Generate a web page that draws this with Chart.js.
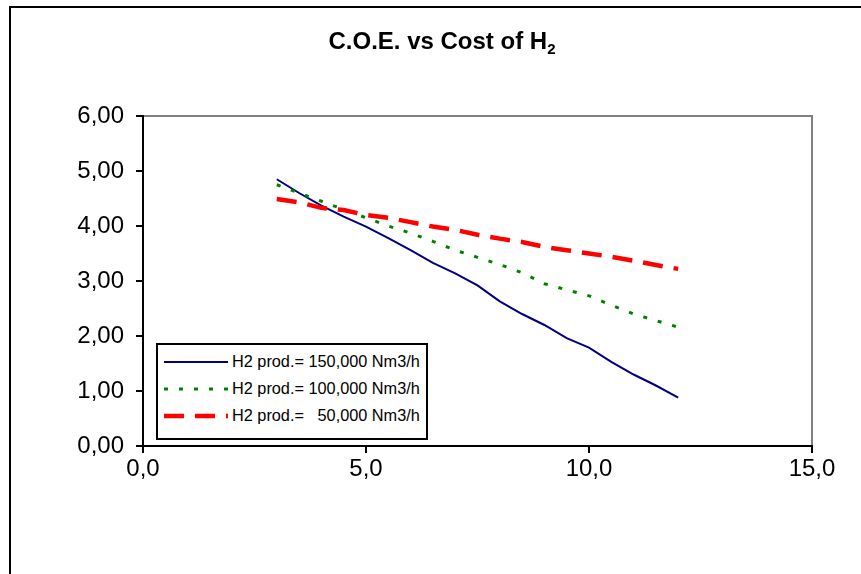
<!DOCTYPE html>
<html>
<head>
<meta charset="utf-8">
<script src="https://cdn.jsdelivr.net/npm/chart.js@4/dist/chart.umd.min.js"></script>
<style>
  body { margin: 0; background: #fff; font-family: "Liberation Sans", Arial, sans-serif; }
  #wrap { position: relative; width: 861px; height: 574px; overflow: hidden; }
  #title { position: absolute; left: 0; width: 884px; top: 27px; text-align: center; line-height: 28px;
           font-weight: bold; font-size: 24px; color: #000; }
  #title sub { font-size: 15px; line-height: 0; vertical-align: -5px; }
  #legend { position: absolute; left: 156px; top: 343px; width: 268px; height: 90px;
            border: 2px solid #000; background: #fff; font-size: 16.3px; padding-top: 3px; box-sizing: content-box; }
  #legend .row { display: flex; align-items: center; height: 27px; margin-left: 5px; white-space: pre; }
  #legend svg { margin-right: 3px; }
</style>
</head>
<body>
<div id="wrap">
  <canvas id="coe" width="861" height="574"></canvas>
  <div id="title">C.O.E. vs Cost of H<sub>2</sub></div>
  <div id="legend"></div>
</div>
<script>
//---------------------- Data -----------------------//
const costH2 = [3.0, 3.5, 4.0, 4.5, 5.0, 5.5, 6.0, 6.5, 7.0, 7.5, 8.0, 8.5, 9.0, 9.5, 10.0, 10.5, 11.0, 11.5, 12.0];
const coe150 = [4.85, 4.60, 4.37, 4.17, 3.99, 3.78, 3.56, 3.33, 3.14, 2.92, 2.63, 2.40, 2.20, 1.96, 1.79, 1.53, 1.30, 1.10, 0.88];
const coe100 = [4.75, 4.60, 4.45, 4.30, 4.15, 4.00, 3.87, 3.72, 3.56, 3.43, 3.30, 3.15, 2.95, 2.84, 2.73, 2.56, 2.40, 2.28, 2.16];
const coe50  = [4.49, 4.43, 4.33, 4.29, 4.20, 4.15, 4.07, 3.99, 3.93, 3.84, 3.77, 3.71, 3.62, 3.56, 3.50, 3.44, 3.37, 3.29, 3.22];
const seriesLabels = ['H2 prod.= 150,000 Nm3/h', 'H2 prod.= 100,000 Nm3/h', 'H2 prod.=   50,000 Nm3/h'];
const xTicks = [0, 5, 10, 15];
const yTicks = [0, 1, 2, 3, 4, 5, 6];

const styles = [
    { color: '#000080', width: 2, dash: [] },
    { color: '#008000', width: 3, dash: [4, 11] },
    { color: '#ff0000', width: 4.5, dash: [20, 11] }
];

function pts(ys) {
    return costH2.map((x, i) => ({ x: x, y: ys[i] }));
}

const fmt = (v, d) => v.toFixed(d).replace('.', ',');

// outer frame and grey plot border
const framePlugin = {
    id: 'frame',
    beforeDraw(chart) {
        const ctx = chart.ctx;
        ctx.save();
        ctx.fillStyle = '#fff';
        ctx.fillRect(0, 0, chart.width, chart.height);
        ctx.strokeStyle = '#000';
        ctx.lineWidth = 2;
        ctx.strokeRect(10, 7, 1000, 1000);
        const a = chart.chartArea;
        ctx.strokeStyle = '#808080';
        ctx.beginPath();
        ctx.moveTo(a.left, a.top);
        ctx.lineTo(a.right, a.top);
        ctx.lineTo(a.right, a.bottom);
        ctx.stroke();
        ctx.restore();
    }
};

const datasets = [coe150, coe100, coe50].map((ys, i) => ({
    label: seriesLabels[i],
    data: pts(ys),
    borderColor: styles[i].color,
    borderWidth: styles[i].width,
    borderDash: styles[i].dash,
    pointRadius: 0,
    showLine: true,
    fill: false,
    tension: 0
}));

new Chart(document.getElementById('coe'), {
    type: 'scatter',
    data: { datasets: datasets.slice().reverse() },
    options: {
        responsive: false,
        animation: false,
        devicePixelRatio: 1,
        layout: { padding: { left: 0, right: 49, top: 116, bottom: 0 } },
        plugins: { legend: { display: false }, title: { display: false }, tooltip: { enabled: false } },
        scales: {
            x: {
                type: 'linear', min: 0, max: 15,
                afterFit: (s) => { s.height = 128; },
                afterBuildTicks: (s) => { s.ticks = xTicks.map(v => ({ value: v })); },
                border: { color: '#000', width: 2 },
                grid: { drawOnChartArea: false, tickLength: 7, color: '#000', lineWidth: 2 },
                ticks: { padding: 2, color: '#000', font: { family: 'Liberation Sans', size: 24 },
                         callback: (v) => fmt(v, 1), maxRotation: 0 }
            },
            y: {
                type: 'linear', min: 0, max: 6,
                afterFit: (s) => { s.width = 143; },
                afterBuildTicks: (s) => { s.ticks = yTicks.map(v => ({ value: v })); },
                border: { color: '#000', width: 2 },
                grid: { drawOnChartArea: false, tickLength: 7, color: '#000', lineWidth: 2 },
                ticks: { padding: 12, color: '#000', font: { family: 'Liberation Sans', size: 24 },
                         callback: (v) => fmt(v, 2) }
            }
        }
    },
    plugins: [framePlugin]
});

// legend box
const leg = document.getElementById('legend');
seriesLabels.forEach((lab, i) => {
    const st = styles[i];
    const row = document.createElement('div');
    row.className = 'row';
    row.innerHTML = `<svg width="66" height="8"><line x1="1" y1="4" x2="65" y2="4" stroke="${st.color}"
        stroke-width="${st.width}" stroke-dasharray="${st.dash.join(' ')}"/></svg><span>${lab}</span>`;
    leg.appendChild(row);
});
</script>
</body>
</html>
